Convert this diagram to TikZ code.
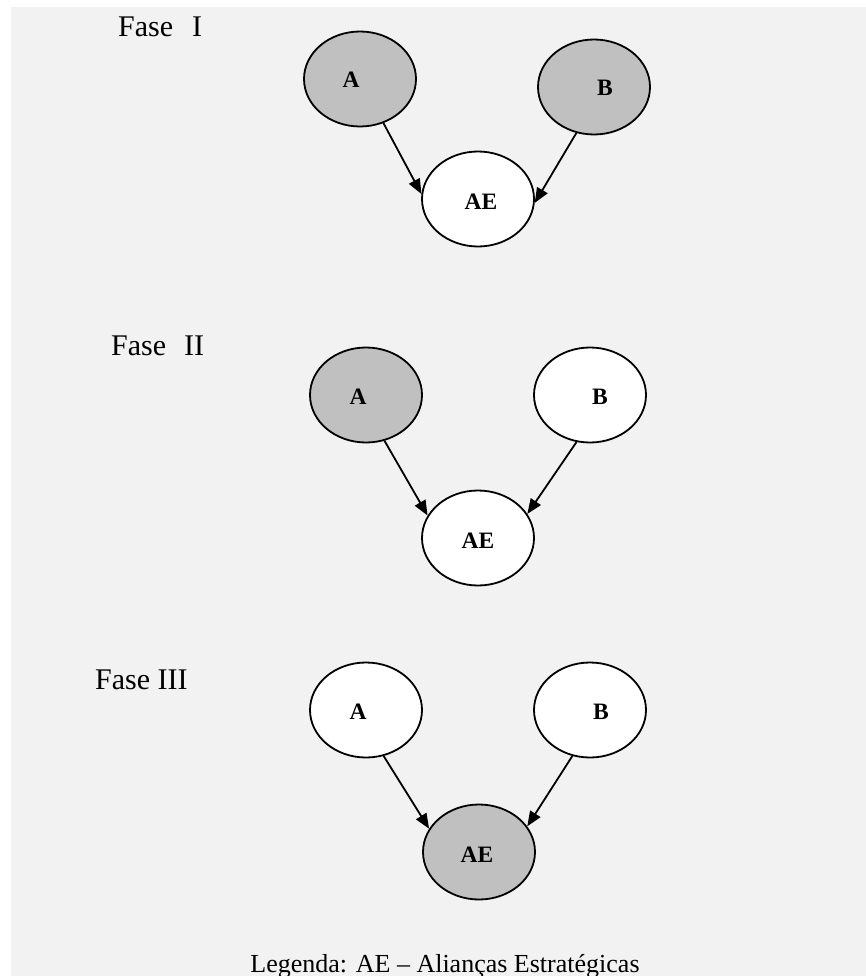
\documentclass[tikz,border=0pt]{standalone}
\usepackage{fontspec}
\setmainfont{Liberation Serif}
\usetikzlibrary{shapes.geometric,arrows.meta}
\definecolor{panel}{HTML}{F2F2F2}
\definecolor{shade}{HTML}{C0C0C0}
\tikzset{
  org/.style={ellipse,draw=black,line width=1.8pt,inner sep=0pt,
    minimum width=112pt,minimum height=95pt},
  grayorg/.style={org,fill=shade},
  whiteorg/.style={org,fill=white},
  lbl/.style={inner sep=0pt,font=\fontsize{23.5}{28}\selectfont\bfseries},
  phase/.style={inner sep=0pt,anchor=base west,font=\fontsize{30}{36}\selectfont},
  legend/.style={inner sep=0pt,anchor=base,font=\fontsize{26}{31}\selectfont},
  link/.style={line width=1.8pt,-{Triangle[length=15pt,width=12pt]}}
}
\begin{document}
\begin{tikzpicture}[x=1pt,y=-1pt]
\useasboundingbox (0,0) rectangle (866,976);
\fill[panel] (11,7) rectangle (866,976);

% Phase I: A and B feed the alliance
\node[phase] (f1) at (118,37) {Fase\hspace{19pt}I};
\node[grayorg] (a1) at (360,79) {};
\node[grayorg] (b1) at (594,87) {};
\node[whiteorg] (ae1) at (478,199) {};
\node[lbl] (la1) at (351,80) {A};
\node[lbl] (lb1) at (605,88) {B};
\node[lbl] (lae1) at (481,202) {AE};
\draw[link] (a1.-62) -- (ae1.175);
\draw[link] (b1.-111) -- (ae1.-4);

% Phase II
\node[phase] (f2) at (111,355) {Fase\hspace{18pt}II};
\node[grayorg] (a2) at (366,395) {};
\node[whiteorg] (b2) at (590,395) {};
\node[whiteorg] (ae2) at (478,538) {};
\node[lbl] (la2) at (358,397) {A};
\node[lbl] (lb2) at (600,397) {B};
\node[lbl] (lae2) at (478,541) {AE};
\draw[link] (a2.-68) -- (ae2.156);
\draw[link] (b2.-106) -- (ae2.26);

% Phase III: the alliance carries the shading
\node[phase] (f3) at (95,689) {Fase III};
\node[whiteorg] (a3) at (366,710) {};
\node[whiteorg] (b3) at (590,710) {};
\node[grayorg] (ae3) at (479,852) {};
\node[lbl] (la3) at (358,712) {A};
\node[lbl] (lb3) at (601,712) {B};
\node[lbl] (lae3) at (477,855) {AE};
\draw[link] (a3.-69) -- (ae3.155);
\draw[link] (b3.-111) -- (ae3.28);

\node[legend] (leg) at (445,972) {Legenda: AE -- Alianças Estratégicas};
\end{tikzpicture}
\end{document}
